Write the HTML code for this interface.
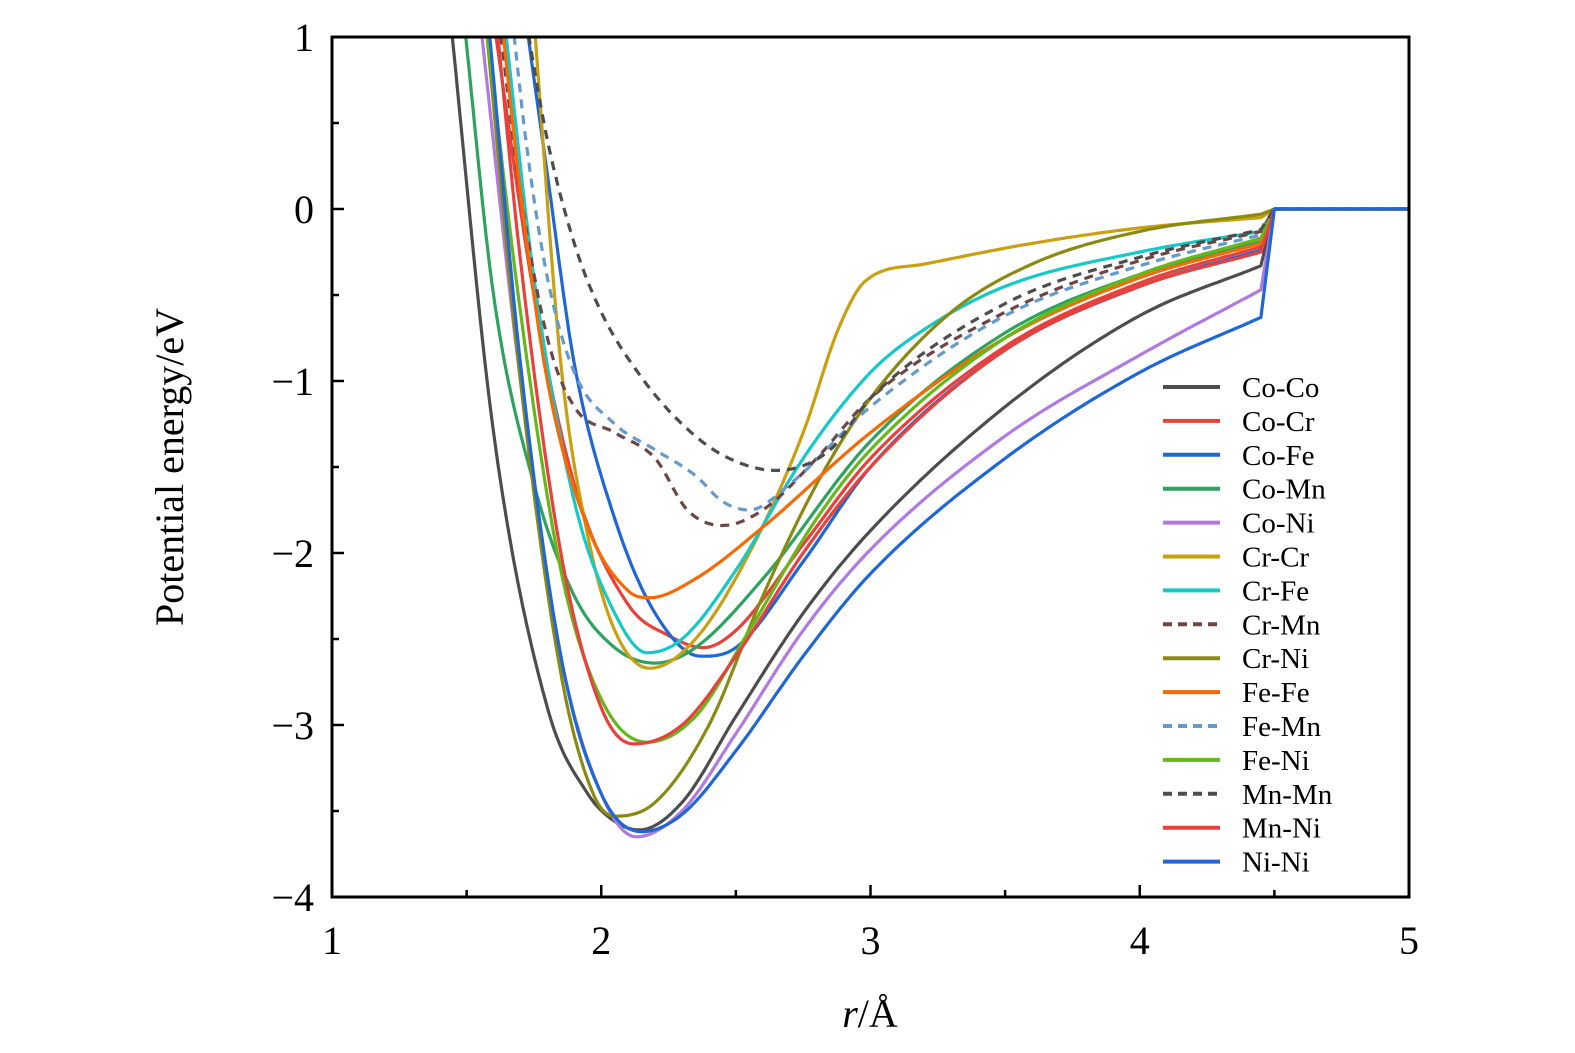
<!DOCTYPE html>
<html><head><meta charset="utf-8"><style>
html,body{margin:0;padding:0;background:#fff;}
svg{display:block;font-family:"Liberation Serif",serif;}
</style></head><body>
<svg id="chart" width="1575" height="1053" viewBox="0 0 1575 1053" xmlns="http://www.w3.org/2000/svg">
<defs><clipPath id="clip"><rect x="332" y="37" width="1077" height="860"/></clipPath></defs>
<g id="curves" clip-path="url(#clip)"></g>
<rect x="332" y="37" width="1077" height="860" fill="none" stroke="#000" stroke-width="3"/>
<g id="axes"></g>
<text x="870" y="1027" font-size="40" text-anchor="middle"><tspan font-style="italic">r</tspan>/Å</text>
<text transform="translate(183,467) rotate(-90)" font-size="40" text-anchor="middle">Potential energy/eV</text>
<g id="legend"></g>
</svg>
<script>
const seriesNames = ["Co-Co","Co-Cr","Co-Fe","Co-Mn","Co-Ni","Cr-Cr","Cr-Fe","Cr-Mn","Cr-Ni","Fe-Fe","Fe-Mn","Fe-Ni","Mn-Mn","Mn-Ni","Ni-Ni"];
const seriesColors = ["#4d4d4d","#e8413c","#1f66d6","#2ea35f","#b07ae0","#c9a011","#17c8c8","#6e4646","#8a8a12","#f56a05","#6699cc","#66b81a","#4d4d4d","#e8413c","#1f66d6"];
const seriesDashed = [false,false,false,false,false,false,false,true,false,false,true,false,true,false,false];
const rCoCo=[1.44,1.6,1.8,1.95,2.05,2.14,2.3,2.5,2.75,3.0,3.5,4.0,4.45,4.5,5]; const eCoCo=[1.1,-1.3,-2.9,-3.4,-3.56,-3.61,-3.45,-2.95,-2.35,-1.87,-1.15,-0.62,-0.33,0,0];
const rCoCr=[1.6,1.75,1.9,2.1,2.25,2.38,2.5,2.75,3.0,3.5,4.0,4.45,4.5,5]; const eCoCr=[1.1,-0.5,-1.6,-2.3,-2.48,-2.55,-2.45,-1.95,-1.45,-0.8,-0.43,-0.22,0,0];
const rCoFe=[1.72,1.8,1.9,2.05,2.2,2.37,2.5,2.75,3.0,3.5,4.0,4.45,4.5,5]; const eCoFe=[1.1,0.2,-0.9,-1.8,-2.35,-2.6,-2.55,-2.05,-1.5,-0.82,-0.45,-0.24,0,0];
const rCoMn=[1.49,1.6,1.75,1.9,2.05,2.2,2.35,2.6,3.0,3.5,4.0,4.45,4.5,5]; const eCoMn=[1.1,-0.5,-1.6,-2.25,-2.55,-2.64,-2.55,-2.15,-1.35,-0.72,-0.38,-0.19,0,0];
const rCoNi=[1.55,1.7,1.85,2.0,2.13,2.3,2.5,2.75,3.0,3.5,4.0,4.45,4.5,5]; const eCoNi=[1.1,-1.0,-2.6,-3.4,-3.65,-3.5,-3.05,-2.45,-1.98,-1.32,-0.85,-0.47,0,0];
const rCrCr=[1.75,1.85,1.95,2.05,2.18,2.35,2.55,2.75,2.88,2.98,3.2,3.6,4.0,4.45,4.5,5]; const eCrCr=[1.1,-0.9,-1.9,-2.45,-2.67,-2.5,-2.0,-1.3,-0.7,-0.42,-0.32,-0.2,-0.11,-0.05,0,0];
const rCrFe=[1.64,1.75,1.9,2.05,2.17,2.3,2.5,2.75,3.0,3.2,3.5,4.0,4.45,4.5,5]; const eCrFe=[1.1,-0.4,-1.7,-2.35,-2.58,-2.5,-2.1,-1.45,-0.95,-0.7,-0.45,-0.25,-0.13,0,0];
const rCrMn=[1.62,1.7,1.8,1.9,2.05,2.2,2.32,2.45,2.6,2.8,3.0,3.5,4.0,4.45,4.5,5]; const eCrMn=[1.1,0.1,-0.75,-1.15,-1.3,-1.45,-1.75,-1.84,-1.75,-1.45,-1.1,-0.6,-0.3,-0.13,0,0];
const rCrNi=[1.57,1.7,1.85,1.97,2.05,2.2,2.4,2.6,2.8,3.0,3.3,3.6,4.0,4.45,4.5,5]; const eCrNi=[1.1,-1.0,-2.7,-3.4,-3.53,-3.45,-3.0,-2.25,-1.6,-1.1,-0.6,-0.32,-0.13,-0.03,0,0];
const rFeFe=[1.63,1.7,1.8,1.95,2.1,2.18,2.35,2.6,3.0,3.5,4.0,4.45,4.5,5]; const eFeFe=[1.1,0.1,-1.0,-1.85,-2.22,-2.26,-2.15,-1.85,-1.3,-0.75,-0.4,-0.2,0,0];
const rFeMn=[1.67,1.72,1.8,1.9,2.05,2.2,2.35,2.45,2.55,2.7,3.0,3.5,4.0,4.45,4.5,5]; const eFeMn=[1.1,0.4,-0.4,-0.95,-1.25,-1.4,-1.55,-1.7,-1.75,-1.6,-1.15,-0.62,-0.33,-0.15,0,0];
const rFeNi=[1.57,1.7,1.85,2.0,2.17,2.35,2.55,2.8,3.0,3.5,4.0,4.45,4.5,5]; const eFeNi=[1.1,-0.6,-2.1,-2.85,-3.1,-2.95,-2.45,-1.8,-1.4,-0.75,-0.38,-0.17,0,0];
const rMnMn=[1.72,1.8,1.9,2.0,2.15,2.3,2.45,2.65,2.85,3.0,3.5,4.0,4.45,4.5,5]; const eMnMn=[1.1,0.4,-0.2,-0.6,-0.98,-1.25,-1.43,-1.52,-1.4,-1.1,-0.55,-0.28,-0.12,0,0];
const rMnNi=[1.61,1.7,1.85,2.0,2.12,2.3,2.5,2.75,3.0,3.5,4.0,4.45,4.5,5]; const eMnNi=[1.1,-0.3,-2.0,-2.9,-3.11,-3.0,-2.6,-2.0,-1.5,-0.82,-0.45,-0.25,0,0];
const rNiNi=[1.58,1.7,1.85,2.0,2.15,2.3,2.5,2.75,3.0,3.5,4.0,4.45,4.5,5]; const eNiNi=[1.1,-0.9,-2.6,-3.4,-3.62,-3.52,-3.15,-2.6,-2.12,-1.45,-0.95,-0.63,0,0];
const seriesR=[rCoCo,rCoCr,rCoFe,rCoMn,rCoNi,rCrCr,rCrFe,rCrMn,rCrNi,rFeFe,rFeMn,rFeNi,rMnMn,rMnNi,rNiNi];
const seriesE=[eCoCo,eCoCr,eCoFe,eCoMn,eCoNi,eCrCr,eCrFe,eCrMn,eCrNi,eFeFe,eFeMn,eFeNi,eMnMn,eMnNi,eNiNi];
const xTicks=[1,2,3,4,5];
const yTicks=[1,0,-1,-2,-3,-4];
const yTickLabels=["1","0","−1","−2","−3","−4"];

const NS="http://www.w3.org/2000/svg";
const X0=332,X1=1409,Y0=37,Y1=897;
const sx=r=>X0+(r-1)/4*(X1-X0);
const sy=e=>Y0+(1-e)/5*(Y1-Y0);
function mk(tag,attrs,parent){const el=document.createElementNS(NS,tag);for(const k in attrs)el.setAttribute(k,attrs[k]);parent.appendChild(el);return el;}
// monotone cubic (Fritsch-Carlson) on the smooth part; straight cutoff segments afterwards
function curvePath(allX,allY){
  const n=allX.length-2, xs=allX.slice(0,n), ys=allY.slice(0,n);
  const d=[],m=[];
  for(let i=0;i<n-1;i++)d.push((ys[i+1]-ys[i])/(xs[i+1]-xs[i]));
  m[0]=d[0];m[n-1]=d[n-2];
  for(let i=1;i<n-1;i++){m[i]=(d[i-1]*d[i]<=0)?0:(d[i-1]+d[i])/2;}
  for(let i=0;i<n-1;i++){
    if(d[i]===0){m[i]=0;m[i+1]=0;continue;}
    const a=m[i]/d[i],b=m[i+1]/d[i],s=a*a+b*b;
    if(s>9){const t=3/Math.sqrt(s);m[i]=t*a*d[i];m[i+1]=t*b*d[i];}
  }
  let pts=[];
  for(let i=0;i<n-1;i++){
    const h=xs[i+1]-xs[i];
    for(let k=0;k<24;k++){
      const t=k/24,t2=t*t,t3=t2*t;
      const y=(2*t3-3*t2+1)*ys[i]+(t3-2*t2+t)*h*m[i]+(-2*t3+3*t2)*ys[i+1]+(t3-t2)*h*m[i+1];
      pts.push(sx(xs[i]+t*h).toFixed(1)+","+sy(y).toFixed(1));
    }
  }
  for(let j=n-1;j<allX.length;j++)pts.push(sx(allX[j]).toFixed(1)+","+sy(allY[j]).toFixed(1));
  return "M"+pts.join(" L");
}
const g=document.getElementById("curves");
for(let s=0;s<seriesNames.length;s++){
  const p=mk("path",{d:curvePath(seriesR[s],seriesE[s]),fill:"none",stroke:seriesColors[s],"stroke-width":3.2,"stroke-linejoin":"round"},g);
  if(seriesDashed[s])p.setAttribute("stroke-dasharray","9,7");
  
  
}
const ax=document.getElementById("axes");
xTicks.forEach(v=>{
  const t=mk("line",{x1:sx(v),x2:sx(v),y1:Y1,y2:Y1-12,stroke:"#000","stroke-width":2.5},ax);
  
  
  const l=mk("text",{x:sx(v),y:954,"font-size":40,"text-anchor":"middle"},ax);l.textContent=v;
  
  
  if(v<5){const m=mk("line",{x1:sx(v+0.5),x2:sx(v+0.5),y1:Y1,y2:Y1-7,stroke:"#000","stroke-width":2.5},ax);
  
  }
});
yTicks.forEach((v,i)=>{
  const t=mk("line",{x1:X0,x2:X0+12,y1:sy(v),y2:sy(v),stroke:"#000","stroke-width":2.5},ax);
  
  
  const l=mk("text",{x:314,y:sy(v)+14,"font-size":40,"text-anchor":"end"},ax);l.textContent=yTickLabels[i];
  
  
  if(v>-4){const m=mk("line",{x1:X0,x2:X0+7,y1:sy(v-0.5),y2:sy(v-0.5),stroke:"#000","stroke-width":2.5},ax);
  
  }
});
const lg=document.getElementById("legend");
seriesNames.forEach((n,i)=>{
  const y=387+i*33.9;
  const ln=mk("line",{x1:1163,x2:1220,y1:y,y2:y,stroke:seriesColors[i],"stroke-width":4},lg);
  if(seriesDashed[i])ln.setAttribute("stroke-dasharray","9,6");
  
  
  const t=mk("text",{x:1242,y:y+10,"font-size":29},lg);t.textContent=n;
  
  
});
</script>
</body></html>
